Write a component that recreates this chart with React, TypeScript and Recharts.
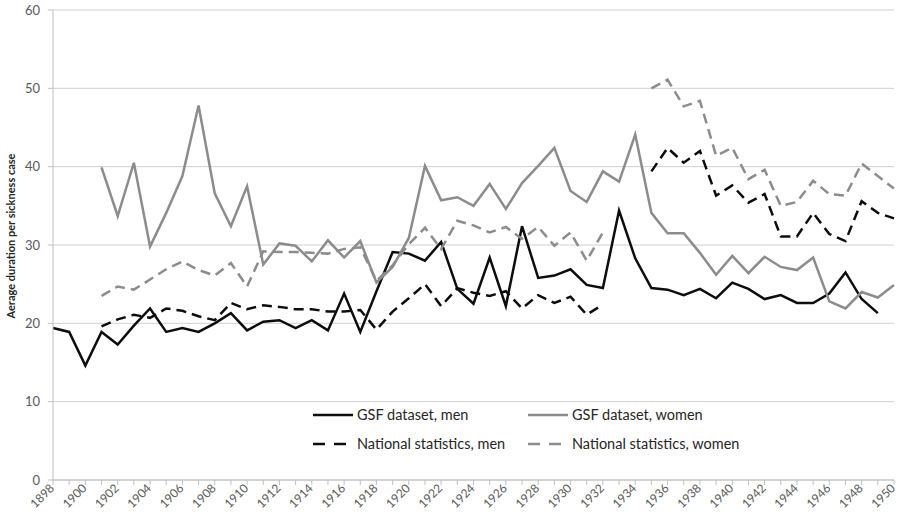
import React from "react";
import { LineChart, Line, XAxis, YAxis, CartesianGrid, Legend } from "recharts";

// years 1898..1950, one entry per year
const firstYear = 1898;
const lastYear = 1950;
const years = Array.from({ length: lastYear - firstYear + 1 }, (_, i) => firstYear + i);

const yTicks = [0, 10, 20, 30, 40, 50, 60];

// average duration per sickness case (days), null = no data
const gsfMen = [
  19.4, 18.9, 14.6, 18.9, 17.3, 19.7, 21.9, 18.9, 19.4, 18.9, 20.0, 21.3, 19.1, 20.2, 20.4, 19.4, 20.4, 19.1,
  23.8, 18.9, 24.1, 29.1, 28.9, 28.0, 30.4, 24.4, 22.5, 28.4, 22.2, 32.4, 25.8, 26.1, 26.9, 24.9, 24.5,
  34.4, 28.3, 24.5, 24.3, 23.6, 24.4, 23.2, 25.2, 24.4, 23.1, 23.6, 22.6, 22.6, 23.8, 26.5, 23.1, 21.3, null,
];

const gsfWomen = [
  null, null, null, 39.9, 33.7, 40.5, 29.8, 34.1, 38.8, 47.8, 36.6, 32.4, 37.5, 27.5, 30.2, 29.9, 27.9, 30.6,
  28.4, 30.5, 25.2, 27.2, 30.9, 40.1, 35.7, 36.1, 35.0, 37.8, 34.6, 37.9, 40.1, 42.4, 36.9, 35.5, 39.4,
  38.1, 44.1, 34.1, 31.5, 31.5, 29.0, 26.2, 28.6, 26.4, 28.5, 27.2, 26.8, 28.4, 22.8, 21.9, 24.0, 23.3, 24.9,
];

const natMen = [
  null, null, null, 19.6, 20.5, 21.1, 20.7, 21.9, 21.6, 20.9, 20.4, 22.6, 21.8, 22.3, 22.1, 21.8, 21.8, 21.5,
  21.5, 21.7, 19.2, 21.5, 23.2, 25.0, 22.2, 24.5, 23.9, 23.5, 24.1, 21.9, 23.6, 22.6, 23.4, 21.1, 22.4,
  null, null, 39.4, 42.4, 40.5, 42.0, 36.3, 37.6, 35.4, 36.5, 31.1, 31.1, 34.1, 31.4, 30.5, 35.6, 34.1, 33.4,
];

const natWomen = [
  null, null, null, 23.5, 24.7, 24.3, 25.6, 26.9, 27.9, 26.8, 26.1, 27.7, 24.7, 29.2, 29.1, 29.1, 29.0, 28.9,
  29.5, 29.7, 25.4, 27.4, 30.1, 32.2, 29.5, 33.1, 32.5, 31.6, 32.3, 30.8, 32.3, 29.9, 31.6, 28.0, 31.6,
  null, null, 50.0, 51.1, 47.7, 48.4, 41.4, 42.4, 38.4, 39.6, 35.0, 35.5, 38.2, 36.5, 36.3, 40.4, 38.8, 37.2,
];

const data = years.map((year, i) => ({
  year,
  gsfMen: gsfMen[i],
  gsfWomen: gsfWomen[i],
  natMen: natMen[i],
  natWomen: natWomen[i],
}));

const series = [
  { key: "gsfMen", name: "GSF dataset, men", color: "#0d0d0d", dash: undefined },
  { key: "gsfWomen", name: "GSF dataset, women", color: "#8c8c8c", dash: undefined },
  { key: "natMen", name: "National statistics, men", color: "#0d0d0d", dash: "10 6" },
  { key: "natWomen", name: "National statistics, women", color: "#8c8c8c", dash: "10 6" },
];

const font = "Lato, 'Open Sans', sans-serif";

const YearTick = (props: any) => {
  const { x, y, payload } = props;
  if (payload.value % 2 !== 0) return null;
  const ax = x + 2;
  const ay = y + 2;
  return (
    <text
      x={ax}
      y={ay}
      transform={`rotate(-45 ${ax} ${ay})`}
      textAnchor="end"
      fontSize={12}
      fontFamily={font}
      fill="#595959"
    >
      {payload.value}
    </text>
  );
};

const AxisTitle = () => (
  <text
    x={10}
    y={236}
    transform="rotate(-90 10 236)"
    textAnchor="middle"
    dominantBaseline="central"
    fontSize={11}
    fontWeight="bold"
    fontFamily={font}
    fill="#262626"
  >
    Aerage duration per sickness case
  </text>
);

const LegendBox = () => (
  <div style={{ display: "flex", flexWrap: "wrap", width: 430, fontFamily: font, fontSize: 14.5, color: "#262626" }}>
    {series.map((s) => (
      <div key={s.key} style={{ width: 215, height: 29, display: "flex", alignItems: "center" }}>
        <svg width={40} height={10} style={{ marginRight: 4 }}>
          <line x1={0} y1={5} x2={40} y2={5} stroke={s.color} strokeWidth={2.5} strokeDasharray={s.dash ? "12 9" : undefined} />
        </svg>
        <span>{s.name}</span>
      </div>
    ))}
  </div>
);

export default function App() {
  return (
    <div style={{ position: "absolute", left: 0, top: 0, background: "#fff" }}>
      <LineChart width={900} height={526} data={data} margin={{ top: 10, right: 6, bottom: 0, left: 20 }}>
        <CartesianGrid vertical={false} stroke="#d0d0d0" />
        <XAxis
          dataKey="year"
          type="number"
          domain={[firstYear, lastYear]}
          ticks={years}
          interval={0}
          tick={<YearTick />}
          tickSize={5}
          tickMargin={2}
          height={46}
          stroke="#bfbfbf"
          tickLine={{ stroke: "#bfbfbf" }}
        />
        <YAxis
          domain={[0, 60]}
          ticks={yTicks}
          width={33}
          tickSize={5}
          tickMargin={8}
          stroke="#bfbfbf"
          tick={{ fontSize: 13, fontFamily: font, fill: "#595959" }}
          label={<AxisTitle />}
        />
        <Legend
          layout="horizontal"
          verticalAlign="middle"
          align="center"
          wrapperStyle={{ left: 313, top: 400, width: 430 }}
          content={<LegendBox />}
        />
        {series.map((s) => (
          <Line
            key={s.key}
            dataKey={s.key}
            name={s.name}
            stroke={s.color}
            strokeWidth={2.5}
            strokeDasharray={s.dash}
            dot={false}
            isAnimationActive={false}
            strokeLinejoin="miter"
          />
        ))}
      </LineChart>
    </div>
  );
}
